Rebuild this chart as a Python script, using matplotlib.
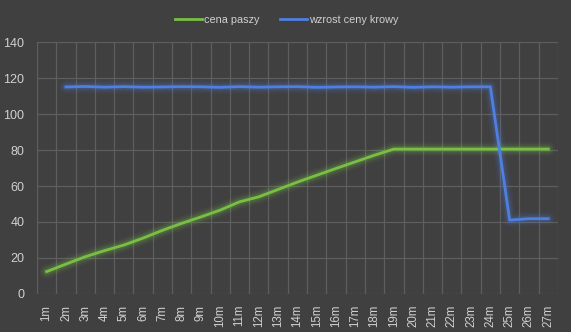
import matplotlib
matplotlib.use("Agg")
import matplotlib.pyplot as plt
import numpy as np

months = [f"{i}m" for i in range(1, 28)]
cena_paszy = [12.3, 16.5, 20.6, 24.0, 27.1, 31.0, 35.3, 39.2, 42.8, 46.6, 51.2, 54.0,
              58.1, 62.2, 66.0, 69.8, 73.5, 77.2, 80.6, 80.6, 80.6, 80.6, 80.6, 80.6,
              80.6, 80.6, 80.6]
wzrost_ceny_krowy = [None, 115.2, 115.5, 115.1, 115.4, 115.1, 115.2, 115.4, 115.3, 115.0,
                     115.4, 115.1, 115.3, 115.4, 115.0, 115.2, 115.3, 115.1, 115.4, 115.0,
                     115.3, 115.1, 115.3, 115.3, 41.0, 41.8, 41.8]
y_ticks = [0, 20, 40, 60, 80, 100, 120, 140]

bg = "#404040"
grid_c = "#5e5e5e"
text_c = "#d0d0d0"
green = "#78c043"
blue = "#4f7fe0"

plt.rcParams['font.family'] = ['Liberation Sans', 'DejaVu Sans']

fig = plt.figure(figsize=(5.71, 3.32), dpi=100, facecolor=bg)
ax = fig.add_axes([0.0648, 0.1154, 0.977 - 0.0648, 0.872 - 0.1154], facecolor=bg)

x = np.arange(len(months))
yb = np.array([np.nan if v is None else v for v in wzrost_ceny_krowy], dtype=float)
yg = np.array(cena_paszy, dtype=float)

for w, a in [(10, 0.06), (7, 0.10), (4.5, 0.16)]:
    ax.plot(x, yg, color=green, lw=w, alpha=a, solid_capstyle='round', zorder=2)
    ax.plot(x, yb, color=blue, lw=w, alpha=a, solid_capstyle='round', zorder=2)
ax.plot(x, yg, color=green, lw=2.0, zorder=3, label="cena paszy")
ax.plot(x, yb, color=blue, lw=2.0, zorder=3, label="wzrost ceny krowy")

ax.set_xlim(-0.5, len(months) - 0.5)
ax.set_ylim(0, 140)
ax.set_yticks(y_ticks)
ax.set_yticklabels([str(v) for v in y_ticks], color=text_c, fontsize=9)
ax.set_xticks(x)
ax.set_xticklabels(months, rotation=90, color=text_c, fontsize=8.3)
ax.set_xticks(np.arange(-0.5, len(months)), minor=True)
ax.tick_params(axis='both', which='both', length=0)
ax.tick_params(axis='x', pad=8)
ax.tick_params(axis='y', pad=9)
ax.grid(True, axis='y', which='major', color=grid_c, lw=0.9)
ax.grid(True, axis='x', which='minor', color=grid_c, lw=0.9)
ax.grid(False, axis='x', which='major')
ax.set_axisbelow(True)
for s in ax.spines.values():
    s.set_visible(False)

leg = fig.legend(loc='upper center', bbox_to_anchor=(0.502, 0.985), ncol=2, frameon=False,
                 fontsize=7.8, labelcolor=text_c, handlelength=2.5, handletextpad=0.15,
                 columnspacing=1.9)

fig.savefig("out.png", dpi=100, facecolor=bg)
